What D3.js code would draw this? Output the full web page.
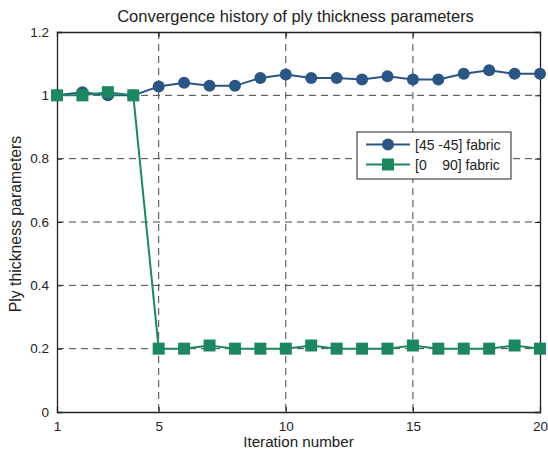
<!DOCTYPE html>
<html>
<head>
<meta charset="utf-8">
<script src="https://cdn.jsdelivr.net/npm/d3@7"></script>
<style>
  html, body { margin: 0; padding: 0; background: #fff; }
  svg { display: block; font-family: "Liberation Sans", Arial, sans-serif; }
</style>
</head>
<body>
<script>
// Iteration index and ply-thickness parameters for the two fabric types
const iterations = d3.range(1, 21);
const fabric45 = [1.0, 1.01, 1.0, 1.0, 1.028, 1.04, 1.03, 1.03, 1.055, 1.066,
                  1.055, 1.055, 1.05, 1.06, 1.05, 1.05, 1.068, 1.079, 1.068, 1.068];
const fabric090 = [1.0, 1.0, 1.01, 1.0, 0.2, 0.2, 0.21, 0.2, 0.2, 0.2,
                   0.21, 0.2, 0.2, 0.2, 0.21, 0.2, 0.2, 0.2, 0.21, 0.2];
const xTicks = [1, 5, 10, 15, 20];
const yTicks = [0, 0.2, 0.4, 0.6, 0.8, 1, 1.2];
const seriesNames = ["[45 -45] fabric", "[0    90] fabric"];

const W = 548, H = 459;
const m = { left: 57, right: 8, top: 32, bottom: 47 };
const pw = W - m.left - m.right, ph = H - m.top - m.bottom;

const x = d3.scaleLinear().domain([1, 20]).range([0, pw]);
const y = d3.scaleLinear().domain([0, 1.2]).range([ph, 0]);

const blue = "#2a5584", green = "#1d8760";

const svg = d3.select("body").append("svg").attr("width", W).attr("height", H);
const g = svg.append("g").attr("transform", `translate(${m.left},${m.top})`);

// Dashed grid
g.append("g").selectAll("line").data(xTicks.filter(d => d !== 1 && d !== 20)).join("line")
  .attr("x1", d => x(d)).attr("x2", d => x(d)).attr("y1", 0).attr("y2", ph)
  .attr("stroke", "#444").attr("stroke-width", 1).attr("stroke-dasharray", "7,5");
g.append("g").selectAll("line").data(yTicks.filter(d => d !== 0 && d !== 1.2)).join("line")
  .attr("y1", d => y(d)).attr("y2", d => y(d)).attr("x1", 0).attr("x2", pw)
  .attr("stroke", "#444").attr("stroke-width", 1).attr("stroke-dasharray", "7,5");

// Axes with inward ticks
const xAxis = g.append("g").attr("transform", `translate(0,${ph})`)
  .call(d3.axisBottom(x).tickValues(xTicks).tickSize(-5).tickPadding(9).tickFormat(d3.format("d")));
const xAxisTop = g.append("g")
  .call(d3.axisTop(x).tickValues(xTicks).tickSize(-5).tickFormat(""));
const yAxis = g.append("g")
  .call(d3.axisLeft(y).tickValues(yTicks).tickSize(-5).tickPadding(8).tickFormat(d => d3.format("~g")(d)));
const yAxisRight = g.append("g").attr("transform", `translate(${pw},0)`)
  .call(d3.axisRight(y).tickValues(yTicks).tickSize(-5).tickFormat(""));
[xAxis, xAxisTop, yAxis, yAxisRight].forEach(a => {
  a.select(".domain").attr("stroke", "#222").attr("stroke-width", 1.3);
  a.selectAll(".tick line").attr("stroke", "#222");
  a.selectAll("text").attr("font-size", 13.5).attr("fill", "#222")
    .attr("font-family", "Liberation Sans, Arial, sans-serif");
});

// Series
const line = d3.line().x((d, i) => x(iterations[i])).y(d => y(d));
g.append("path").datum(fabric45).attr("d", line)
  .attr("fill", "none").attr("stroke", blue).attr("stroke-width", 2);
g.append("path").datum(fabric090).attr("d", line)
  .attr("fill", "none").attr("stroke", green).attr("stroke-width", 2);

g.append("g").selectAll("circle").data(fabric45).join("circle")
  .attr("cx", (d, i) => x(iterations[i])).attr("cy", d => y(d)).attr("r", 6)
  .attr("fill", blue);
const s = 12;
g.append("g").selectAll("rect").data(fabric090).join("rect")
  .attr("x", (d, i) => x(iterations[i]) - s / 2).attr("y", d => y(d) - s / 2)
  .attr("width", s).attr("height", s).attr("fill", green);

// Legend
const lg = svg.append("g").attr("transform", "translate(357,132)");
lg.append("rect").attr("width", 154).attr("height", 47)
  .attr("fill", "#fff").attr("stroke", "#222").attr("stroke-width", 1);
[[blue, "circle"], [green, "rect"]].forEach(([c, shape], i) => {
  const yy = 12.5 + i * 20;
  lg.append("line").attr("x1", 9).attr("x2", 53).attr("y1", yy).attr("y2", yy)
    .attr("stroke", c).attr("stroke-width", 2);
  if (shape === "circle") lg.append("circle").attr("cx", 31).attr("cy", yy).attr("r", 6).attr("fill", c);
  else lg.append("rect").attr("x", 25).attr("y", yy - 6).attr("width", 12).attr("height", 12).attr("fill", c);
  lg.append("text").attr("x", 58).attr("y", yy + 5).attr("font-size", 14).attr("fill", "#222")
    .attr("xml:space", "preserve").style("white-space", "pre").text(seriesNames[i]);
});

// Titles
svg.append("text").attr("x", m.left + pw / 2 - 3).attr("y", 22).attr("text-anchor", "middle")
  .attr("font-size", 16.5).attr("fill", "#222").text("Convergence history of ply thickness parameters");
svg.append("text").attr("x", m.left + pw / 2).attr("y", 447).attr("text-anchor", "middle")
  .attr("font-size", 15.2).attr("fill", "#222").text("Iteration number");
svg.append("text").attr("transform", `translate(21,${m.top + ph / 2 + 2}) rotate(-90)`)
  .attr("text-anchor", "middle").attr("font-size", 15.8).attr("fill", "#222")
  .text("Ply thickness parameters");
</script>
</body>
</html>
